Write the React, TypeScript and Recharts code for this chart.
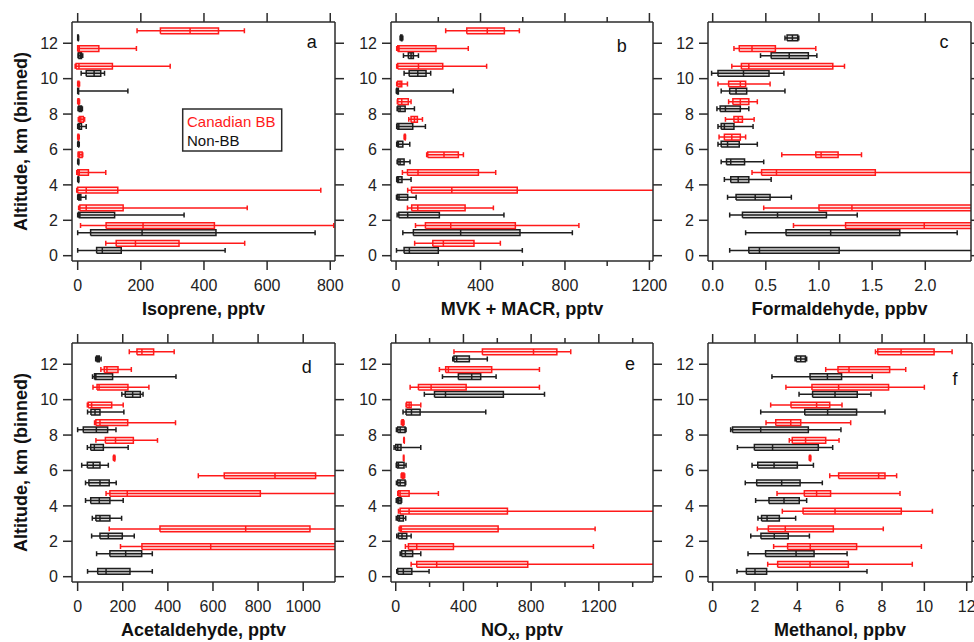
import React from 'react';
import { ComposedChart, Line, XAxis, YAxis, ReferenceArea, Label } from 'recharts';

// each entry: [whisker low, 25th, median, 75th, whisker high] for altitude bin i (km)
type Box = [number, number, number, number, number] | null;

const ALT_BINS = [0, 1, 2, 3, 4, 5, 6, 7, 8, 9, 10, 11, 12];
const ALT_TICKS = [0, 2, 4, 6, 8, 10, 12];

const isopreneBB: Box[] = [
  [89, 122, 183, 321, 529], [9, 90, 207, 433, 811], [3, 7, 27, 144, 537], [-3, 0, 27, 127, 770],
  [-3, 0, 5, 34, 89], [1, 2, 6, 14, 16], [0, 1, 2, 3, 5], [2, 5, 10, 18, 22], [0, 1, 2, 4, 6],
  [0, 1, 2, 4, 6], [-8, -5, 4, 110, 293], [0, 0, 5, 67, 186], [188, 262, 356, 446, 528],
];
const isopreneNonBB: Box[] = [
  [0, 60, 78, 138, 467], [0, 41, 204, 438, 752], [0, 3, 7, 117, 337], [0, 1, 5, 10, 26],
  [0, 1, 2, 3, 4], [0, 1, 2, 3, 4], [0, 1, 2, 3, 5], [0, 2, 5, 12, 27], [1, 3, 8, 12, 15],
  [0, 0, 1, 3, 159], [11, 27, 52, 73, 85], [1, 2, 8, 12, 16], [0, 0, 1, 2, 3],
];

const mvkBB: Box[] = [
  [88, 174, 224, 369, 494], [92, 139, 259, 565, 866], [54, 74, 103, 327, 461], [55, 73, 264, 574, 1400],
  [30, 54, 104, 390, 472], [145, 150, 227, 295, 319], [38, 40, 41, 43, 45], [60, 71, 87, 101, 125],
  [6, 8, 27, 58, 71], [3, 8, 19, 27, 54], [3, 8, 106, 221, 429], [3, 8, 14, 189, 342], [235, 335, 432, 513, 584],
];
const mvkNonBB: Box[] = [
  [2, 38, 63, 200, 598], [32, 82, 306, 587, 835], [5, 13, 55, 205, 511], [2, 6, 14, 55, 95],
  [3, 5, 11, 28, 71], [5, 9, 19, 38, 66], [3, 6, 11, 32, 65], [3, 5, 13, 79, 139], [5, 9, 19, 43, 87],
  [1, 3, 8, 11, 271], [38, 62, 103, 142, 164], [35, 58, 71, 82, 106], [19, 22, 25, 28, 32],
];

const hchoBB: Box[] = [
  null, [0.76, 1.25, 1.99, 2.6, 3.0], [0.48, 1.0, 1.31, 2.6, 3.0], null,
  [0.37, 0.46, 0.6, 1.53, 2.6], [0.65, 0.97, 1.02, 1.18, 1.4], [0.06, 0.11, 0.18, 0.26, 0.31],
  [0.12, 0.2, 0.24, 0.28, 0.39], [0.15, 0.19, 0.26, 0.34, 0.42], [0.05, 0.15, 0.26, 0.31, 0.54],
  [0.18, 0.27, 0.34, 1.13, 1.24], [0.2, 0.25, 0.37, 0.59, 0.97], null,
];
const hchoNonBB: Box[] = [
  [0.16, 0.34, 0.44, 1.19, 2.6], [0.31, 0.69, 1.11, 1.76, 2.3], [0.16, 0.28, 0.61, 1.07, 1.36],
  [0.14, 0.22, 0.4, 0.54, 0.74], [0.11, 0.17, 0.24, 0.34, 0.55], [0.08, 0.13, 0.17, 0.3, 0.48],
  [0.05, 0.08, 0.14, 0.25, 0.42], [0.05, 0.08, 0.11, 0.2, 0.38], [0.04, 0.07, 0.12, 0.26, 0.34],
  [0.08, 0.16, 0.22, 0.32, 0.68], [-0.01, 0.05, 0.29, 0.53, 0.67], [0.45, 0.55, 0.72, 0.9, 0.98],
  [0.68, 0.7, 0.75, 0.8, 0.81],
];

const acetBB: Box[] = [
  null, [190, 285, 590, 1200, 1400], [140, 365, 745, 1030, 1400], null,
  [126, 143, 220, 810, 1400], [535, 650, 875, 1055, 1400], [158, 160, 162, 164, 166],
  [81, 123, 168, 247, 354], [75, 81, 99, 222, 434], [43, 47, 62, 151, 202],
  [68, 86, 95, 223, 316], [103, 118, 130, 179, 238], [229, 263, 285, 337, 428],
];
const acetNonBB: Box[] = [
  [44, 89, 126, 232, 331], [84, 143, 213, 284, 331], [62, 99, 136, 198, 251], [65, 81, 99, 143, 195],
  [35, 58, 96, 143, 202], [35, 50, 99, 140, 171], [18, 43, 69, 99, 136], [43, 58, 74, 114, 224],
  [0, 25, 83, 133, 170], [44, 59, 77, 99, 205], [196, 211, 244, 278, 290], [66, 75, 81, 155, 436],
  [80, 84, 90, 96, 104],
];

const noxBB: Box[] = [
  [91, 124, 242, 780, 1800], [57, 75, 124, 341, 1168], [20, 26, 33, 605, 1178], [16, 26, 79, 660, 1800],
  [12, 16, 26, 79, 252], [32, 36, 42, 48, 53], [45, 46, 47, 48, 49], [47, 48, 49, 50, 51],
  [33, 37, 41, 45, 49], [61, 65, 79, 91, 148], [85, 134, 209, 416, 849], [258, 295, 311, 567, 849],
  [344, 512, 814, 952, 1034],
];
const noxNonBB: Box[] = [
  [6, 12, 45, 95, 197], [26, 35, 57, 100, 148], [6, 16, 37, 65, 91], [3, 12, 22, 45, 59],
  [3, 10, 18, 31, 35], [4, 12, 26, 55, 59], [3, 6, 16, 49, 61], [-10, 0, 12, 31, 148],
  [4, 12, 26, 55, 61], [43, 61, 93, 144, 532], [169, 229, 294, 636, 879], [276, 370, 449, 502, 593],
  [337, 344, 360, 435, 541],
];

const methBB: Box[] = [
  [2.6, 3.07, 4.6, 6.41, 9.43], [2.88, 3.54, 4.61, 6.8, 9.86], [2.11, 2.63, 3.43, 5.7, 8.06],
  [3.29, 4.27, 5.78, 8.91, 10.38], [3.04, 4.33, 4.91, 5.57, 8.85], [5.53, 5.95, 7.84, 8.14, 8.69],
  [4.56, 4.58, 4.6, 4.62, 4.64], [3.62, 3.76, 4.39, 5.34, 5.97], [2.52, 2.98, 3.69, 4.16, 6.52],
  [2.74, 3.7, 4.91, 5.53, 6.11], [3.46, 4.69, 5.95, 8.31, 10.0], [5.34, 5.92, 6.44, 8.36, 9.12],
  [7.69, 7.8, 8.9, 10.46, 11.31],
];
const methNonBB: Box[] = [
  [1.15, 1.59, 2.0, 2.55, 7.29], [1.67, 2.5, 3.94, 4.79, 6.35], [1.8, 2.28, 2.91, 3.57, 4.57],
  [2.14, 2.31, 2.57, 3.15, 3.92], [2.03, 2.66, 3.37, 4.09, 4.44], [1.54, 2.08, 3.26, 4.13, 5.18],
  [1.86, 2.13, 2.9, 4.0, 4.76], [1.17, 1.97, 2.83, 4.99, 5.67], [0.85, 0.94, 2.27, 4.52, 6.06],
  [2.27, 4.35, 5.43, 6.8, 8.14], [4.08, 4.72, 5.78, 6.83, 7.48], [2.8, 4.6, 5.42, 6.09, 7.54],
  [3.89, 3.95, 4.16, 4.38, 4.44],
];

const ISOPRENE_TICKS = [0, 200, 400, 600, 800];
const MVK_TICKS = [0, 200, 400, 600, 800, 1000, 1200];
const MVK_MINOR = [200, 600, 1000];
const HCHO_TICKS = [0, 0.5, 1, 1.5, 2];
const ACET_TICKS = [0, 200, 400, 600, 800, 1000];
const NOX_TICKS = [0, 200, 400, 600, 800, 1000, 1200, 1400];
const NOX_MINOR = [200, 600, 1000, 1400];
const METH_TICKS = [0, 2, 4, 6, 8, 10, 12];

const FONT = '"Liberation Sans", Arial, sans-serif';
const AX = '#2b2b2b';
const RED = '#ff1a1a';
const BLK = '#1e1e1e';
const HALF = 0.16; // box half-height in km
const CAP = 0.14;
const BB_SHIFT = 0.7;
const NON_SHIFT = 0.3;
const Y_DOMAIN: [number, number] = [-0.3, 13.2];

const TICK = 9;
const MINOR_LEN = 5;
const BOTTOM_GAP = 10;
const TOP_GAP = 2;

type Pt = { x: number | null; y: number | null };
const BREAK: Pt = { x: null, y: null };

function outline(boxes: Box[], shift: number): Pt[] {
  const pts: Pt[] = [];
  boxes.forEach((b, i) => {
    if (!b) return;
    const [lo, q1, med, q3, hi] = b;
    const a = ALT_BINS[i] + shift;
    pts.push(
      { x: lo, y: a }, { x: hi, y: a }, BREAK,
      { x: lo, y: a - CAP }, { x: lo, y: a + CAP }, BREAK,
      { x: hi, y: a - CAP }, { x: hi, y: a + CAP }, BREAK,
      { x: q1, y: a - HALF }, { x: q3, y: a - HALF }, { x: q3, y: a + HALF },
      { x: q1, y: a + HALF }, { x: q1, y: a - HALF }, BREAK,
      { x: med, y: a - HALF }, { x: med, y: a + HALF }, BREAK,
    );
  });
  return pts;
}

const XTick = (props: any) => {
  const { x, y, payload, top, minor, fmt } = props;
  const isMinor = (minor || []).includes(payload.value);
  const len = isMinor ? MINOR_LEN : TICK;
  if (top) {
    const base = y + TICK + TOP_GAP;
    return <line x1={x} x2={x} y1={base} y2={base - len} stroke={AX} strokeWidth={1.5} />;
  }
  const base = y - TICK - BOTTOM_GAP;
  return (
    <g>
      <line x1={x} x2={x} y1={base} y2={base + len} stroke={AX} strokeWidth={1.5} />
      {!isMinor && (
        <text x={x} y={y} dy="0.71em" textAnchor="middle" fontSize={16} fill="#222" fontFamily={FONT}>
          {fmt ? fmt(payload.value) : payload.value}
        </text>
      )}
    </g>
  );
};

type PanelProps = {
  bb: Box[];
  non: Box[];
  domain: [number, number];
  ticks: number[];
  minor?: number[];
  fmt?: (v: number) => string;
  title: React.ReactNode;
  yTitle?: boolean;
  left: number;
  top: number;
  leftW: number;
  plotW: number;
};

const PLOT_H = 239;
const TOP_H = 12;
const BOTTOM_H = 58;
const RIGHT_W = 24;
const EXTRA_BOTTOM = 6;

function Panel({ bb, non, domain, ticks, minor, fmt, title, yTitle, left, top, leftW, plotW }: PanelProps) {
  const width = leftW + plotW + RIGHT_W;
  const height = TOP_H + PLOT_H + BOTTOM_H + EXTRA_BOTTOM;
  const series = [
    { name: 'Non-BB', boxes: non, shift: NON_SHIFT, color: BLK, fill: '#000', op: 0.15 },
    { name: 'Canadian BB', boxes: bb, shift: BB_SHIFT, color: RED, fill: '#ff0000', op: 0.1 },
  ];
  return (
    <div style={{ position: 'absolute', left, top, width, height }}>
      <ComposedChart width={width} height={height} margin={{ top: 0, right: 0, bottom: EXTRA_BOTTOM, left: 0 }}>
        <XAxis
          xAxisId="b"
          dataKey="x"
          type="number"
          domain={domain}
          allowDataOverflow
          ticks={ticks}
          interval={0}
          height={BOTTOM_H}
          tickSize={TICK}
          tickMargin={BOTTOM_GAP}
          tickLine={false}
          axisLine={{ stroke: AX, strokeWidth: 1.5 }}
          tick={<XTick minor={minor} fmt={fmt} />}
        >
          <Label
            content={(p: any) => {
              const vb = p.viewBox || {};
              return (
                <text x={vb.x + vb.width / 2} y={vb.y + vb.height - 4} textAnchor="middle" fontSize={18}
                  fontWeight="bold" fill="#111" fontFamily={FONT}>
                  {title}
                </text>
              );
            }}
          />
        </XAxis>
        <XAxis
          xAxisId="t"
          orientation="top"
          dataKey="x"
          type="number"
          domain={domain}
          allowDataOverflow
          ticks={ticks}
          interval={0}
          height={TOP_H}
          tickSize={TICK}
          tickMargin={TOP_GAP}
          tickLine={false}
          axisLine={{ stroke: AX, strokeWidth: 1.5 }}
          tick={<XTick top minor={minor} />}
        />
        <YAxis
          yAxisId="l"
          type="number"
          domain={Y_DOMAIN}
          allowDataOverflow
          ticks={ALT_TICKS}
          interval={0}
          width={leftW}
          tickSize={TICK}
          tickMargin={5}
          axisLine={{ stroke: AX, strokeWidth: 1.5 }}
          tickLine={{ stroke: AX, strokeWidth: 1.5 }}
          tick={{ fontSize: 16, fill: '#222', fontFamily: FONT }}
        >
          {yTitle && (
            <Label
              content={(p: any) => {
                const vb = p.viewBox || {};
                const cx = vb.x + 27;
                const cy = vb.y + vb.height / 2;
                return (
                  <text x={cx} y={cy} transform={`rotate(-90, ${cx}, ${cy})`} textAnchor="middle" fontSize={18}
                    fontWeight="bold" fill="#111" fontFamily={FONT}>
                    Altitude, km (binned)
                  </text>
                );
              }}
            />
          )}
        </YAxis>
        <YAxis
          yAxisId="r"
          orientation="right"
          type="number"
          domain={Y_DOMAIN}
          allowDataOverflow
          ticks={ALT_TICKS}
          interval={0}
          width={RIGHT_W}
          tickSize={TICK}
          tickFormatter={() => ''}
          axisLine={{ stroke: AX, strokeWidth: 1.5 }}
          tickLine={{ stroke: AX, strokeWidth: 1.5 }}
        />
        {series.map((s) =>
          s.boxes.map((b, i) =>
            b ? (
              <ReferenceArea
                key={`${s.name}-area-${i}`}
                xAxisId="b"
                yAxisId="l"
                x1={b[1]}
                x2={b[3]}
                y1={ALT_BINS[i] + s.shift - HALF}
                y2={ALT_BINS[i] + s.shift + HALF}
                fill={s.fill}
                fillOpacity={s.op}
                stroke="none"
                ifOverflow="hidden"
              />
            ) : null,
          ),
        )}
        {series.map((s) => (
          <Line
            key={s.name}
            xAxisId="b"
            yAxisId="l"
            data={outline(s.boxes, s.shift)}
            dataKey="y"
            name={s.name}
            type="linear"
            stroke={s.color}
            strokeWidth={1.5}
            dot={false}
            activeDot={false}
            connectNulls={false}
            isAnimationActive={false}
          />
        ))}
      </ComposedChart>
    </div>
  );
}

const letterStyle = { fontSize: 18, fill: '#111', fontFamily: FONT } as const;

export default function App() {
  return (
    <div style={{ position: 'absolute', left: 0, top: 0, width: 974, height: 642, background: '#fff', fontFamily: FONT, overflow: 'hidden' }}>
      <Panel bb={isopreneBB} non={isopreneNonBB} domain={[-18, 815]} ticks={ISOPRENE_TICKS}
        title="Isoprene, pptv" yTitle left={0} top={10} leftW={72} plotW={263} />
      <Panel bb={mvkBB} non={mvkNonBB} domain={[-24, 1217]} ticks={MVK_TICKS} minor={MVK_MINOR}
        title="MVK + MACR, pptv" left={336} top={10} leftW={55} plotW={262} />
      <Panel bb={hchoBB} non={hchoNonBB} domain={[-0.044, 2.43]} ticks={HCHO_TICKS} fmt={(v) => v.toFixed(1)}
        title="Formaldehyde, ppbv" left={653} top={10} leftW={55} plotW={263} />
      <Panel bb={acetBB} non={acetNonBB} domain={[-25, 1141]} ticks={ACET_TICKS}
        title="Acetaldehyde, pptv" yTitle left={0} top={331} leftW={72} plotW={263} />
      <Panel bb={noxBB} non={noxNonBB} domain={[-28, 1520]} ticks={NOX_TICKS} minor={NOX_MINOR}
        title={<>
          <tspan>NO</tspan><tspan dy={4} fontSize={13}>x</tspan><tspan dy={-4}>, pptv</tspan>
        </>}
        left={336} top={331} leftW={55} plotW={262} />
      <Panel bb={methBB} non={methNonBB} domain={[-0.22, 12.25]} ticks={METH_TICKS}
        title="Methanol, ppbv" left={653} top={331} leftW={55} plotW={264} />
      <svg width={974} height={642} style={{ position: 'absolute', left: 0, top: 0, pointerEvents: 'none' }}>
        <text x={311.7} y={47.5} textAnchor="middle" {...letterStyle}>a</text>
        <text x={621.7} y={52} textAnchor="middle" {...letterStyle}>b</text>
        <text x={944} y={47.8} textAnchor="middle" {...letterStyle}>c</text>
        <text x={306.7} y={373} textAnchor="middle" {...letterStyle}>d</text>
        <text x={630} y={369.5} textAnchor="middle" {...letterStyle}>e</text>
        <text x={955} y={385} textAnchor="middle" {...letterStyle}>f</text>
        <rect x={182.7} y={109} width={99} height={42} fill="#fff" stroke={AX} strokeWidth={1.5} />
        <text x={187} y={127.3} fontSize={15} fill={RED} fontFamily={FONT}>Canadian BB</text>
        <text x={187} y={145.7} fontSize={15} fill="#111" fontFamily={FONT}>Non-BB</text>
      </svg>
    </div>
  );
}
